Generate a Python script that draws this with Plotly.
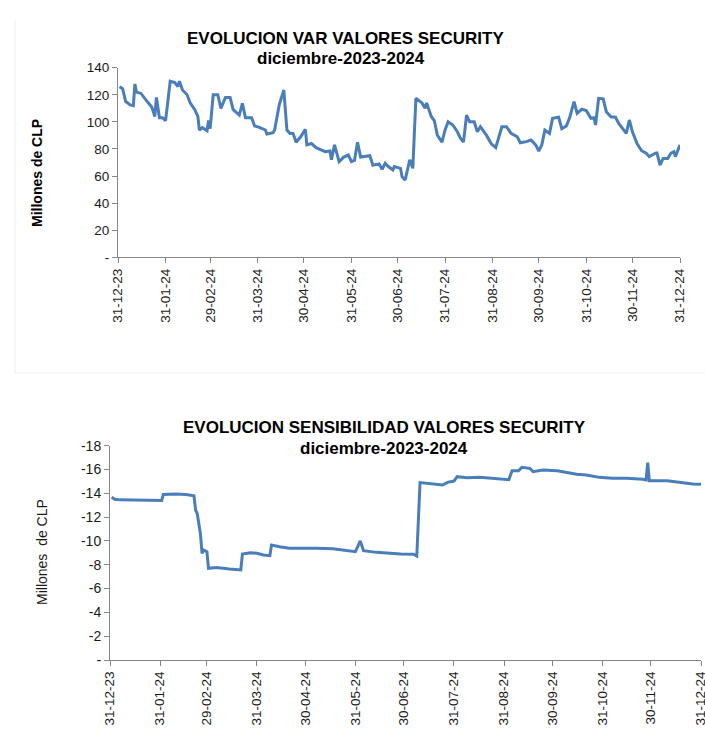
import pandas as pd
import plotly.graph_objects as go

# ---------------- data ----------------
var_dates = [
    "2024-01-01", "2024-01-03", "2024-01-05", "2024-01-08", "2024-01-10", "2024-01-11", "2024-01-12",
    "2024-01-15", "2024-01-19", "2024-01-22", "2024-01-24", "2024-01-25", "2024-01-27", "2024-01-29",
    "2024-01-31", "2024-02-03", "2024-02-06", "2024-02-08", "2024-02-09", "2024-02-11", "2024-02-14",
    "2024-02-16", "2024-02-19", "2024-02-21", "2024-02-22", "2024-02-24", "2024-02-27", "2024-02-28",
    "2024-02-29", "2024-03-02", "2024-03-05", "2024-03-07", "2024-03-10", "2024-03-13", "2024-03-15",
    "2024-03-19", "2024-03-21", "2024-03-23", "2024-03-27", "2024-03-29", "2024-04-01", "2024-04-05",
    "2024-04-06", "2024-04-10", "2024-04-11", "2024-04-14", "2024-04-17", "2024-04-19", "2024-04-21",
    "2024-04-23", "2024-04-25", "2024-04-28", "2024-05-01", "2024-05-02", "2024-05-05", "2024-05-08",
    "2024-05-12", "2024-05-14", "2024-05-17", "2024-05-18", "2024-05-20", "2024-05-23", "2024-05-26",
    "2024-05-29", "2024-05-31", "2024-06-02", "2024-06-04", "2024-06-06", "2024-06-12", "2024-06-14",
    "2024-06-18", "2024-06-20", "2024-06-22", "2024-06-24", "2024-06-27", "2024-06-28", "2024-07-02",
    "2024-07-03", "2024-07-05", "2024-07-08", "2024-07-10", "2024-07-12", "2024-07-16", "2024-07-18",
    "2024-07-19", "2024-07-22", "2024-07-24", "2024-07-26", "2024-07-29", "2024-07-31", "2024-08-02",
    "2024-08-05", "2024-08-08", "2024-08-10", "2024-08-12", "2024-08-14", "2024-08-16", "2024-08-19",
    "2024-08-21", "2024-08-23", "2024-08-27", "2024-08-30", "2024-09-02", "2024-09-05", "2024-09-06",
    "2024-09-09", "2024-09-12", "2024-09-16", "2024-09-18", "2024-09-22", "2024-09-25", "2024-09-28",
    "2024-09-30", "2024-10-02", "2024-10-04", "2024-10-07", "2024-10-09", "2024-10-13", "2024-10-15",
    "2024-10-18", "2024-10-20", "2024-10-23", "2024-10-25", "2024-10-28", "2024-10-31", "2024-11-03",
    "2024-11-05", "2024-11-06", "2024-11-08", "2024-11-11", "2024-11-13", "2024-11-16", "2024-11-19",
    "2024-11-21", "2024-11-24", "2024-11-26", "2024-11-28", "2024-11-30", "2024-12-03", "2024-12-06",
    "2024-12-09", "2024-12-11", "2024-12-15", "2024-12-16", "2024-12-18", "2024-12-20", "2024-12-23",
    "2024-12-25", "2024-12-27", "2024-12-28", "2024-12-31",
]
var_values = [
    126, 124.5, 115, 112.5, 112, 128, 122,
    121, 115, 111, 104, 118, 103, 103,
    101, 130, 129, 126, 130, 123.5, 120,
    114, 109, 104, 94, 95.7, 93.5, 101,
    95, 120, 120, 110, 118, 118, 109,
    105, 113.7, 103, 103, 97, 96, 94,
    91, 92, 94, 112.5, 123.5, 94, 91.5,
    91.5, 85, 89, 94.5, 83, 84, 81,
    79, 78, 78.5, 72, 83, 70.6, 74,
    75.5, 70.6, 71.5, 85, 74, 75, 68,
    69, 65, 69.4, 67, 64.5, 67, 65.7,
    59.5, 57, 72, 65.7, 117.4, 114, 110,
    114, 104, 101, 90, 85, 94, 100,
    97.7, 92.7, 88, 85, 105, 100, 100,
    92.7, 96.4, 90, 84, 81, 94, 96.4,
    96.4, 91.5, 89, 84.6, 85.4, 86.6, 83,
    78.5, 83, 94, 91.5, 102.6, 103.4, 95,
    97, 102.6, 115, 106.3, 109.3, 108.3, 102.6,
    103, 97.7, 117.4, 117, 107.5, 103.8, 103.4,
    99, 95, 91.5, 101.4, 92.7, 84, 78.7,
    76.8, 74.3, 76.8, 77, 68, 73, 73,
    76.8, 78, 74.3, 83,
]

sens_dates = [
    "2024-01-01", "2024-01-03", "2024-01-06", "2024-01-14", "2024-01-23", "2024-01-31", "2024-02-01",
    "2024-02-02", "2024-02-10", "2024-02-16", "2024-02-21", "2024-02-22", "2024-02-23", "2024-02-25",
    "2024-02-26", "2024-02-27", "2024-02-29", "2024-03-01", "2024-03-06", "2024-03-14", "2024-03-21",
    "2024-03-22", "2024-03-27", "2024-03-31", "2024-04-04", "2024-04-08", "2024-04-09", "2024-04-14",
    "2024-04-20", "2024-05-07", "2024-05-17", "2024-05-23", "2024-05-31", "2024-06-03", "2024-06-05",
    "2024-06-13", "2024-06-19", "2024-06-28", "2024-07-06", "2024-07-08", "2024-07-10", "2024-07-14",
    "2024-07-20", "2024-07-24", "2024-07-27", "2024-07-31", "2024-08-02", "2024-08-08", "2024-08-16",
    "2024-08-24", "2024-09-03", "2024-09-05", "2024-09-09", "2024-09-11", "2024-09-16", "2024-09-18",
    "2024-09-24", "2024-10-03", "2024-10-09", "2024-10-15", "2024-10-21", "2024-10-29", "2024-11-06",
    "2024-11-15", "2024-11-25", "2024-11-27", "2024-11-28", "2024-11-29", "2024-12-10", "2024-12-14",
    "2024-12-20", "2024-12-26", "2024-12-31",
]
sens_values = [
    -13.67, -13.5, -13.45, -13.44, -13.4, -13.38, -13.4,
    -13.9, -13.94, -13.9, -13.8, -12.6, -12.3, -10.6,
    -8.96, -9.24, -9.1, -7.7, -7.76, -7.64, -7.56,
    -8.9, -9.0, -8.96, -8.82, -8.76, -9.66, -9.52,
    -9.38, -9.38, -9.35, -9.24, -9.1, -10.0, -9.18,
    -9.04, -8.96, -8.9, -8.88, -8.73, -14.9, -14.84,
    -14.7, -14.7, -14.92, -15.03, -15.4, -15.31, -15.34,
    -15.26, -15.15, -15.9, -15.9, -16.18, -16.1, -15.82,
    -15.96, -15.9, -15.73, -15.6, -15.54, -15.34, -15.26,
    -15.26, -15.18, -15.12, -16.57, -15.06, -15.06, -14.98,
    -14.9, -14.78, -14.76,
]

x_tick_labels = ["31-12-23", "31-01-24", "29-02-24", "31-03-24", "30-04-24", "31-05-24",
                 "30-06-24", "31-07-24", "31-08-24", "30-09-24", "31-10-24", "30-11-24", "31-12-24"]
var_y_ticks = [0, 20, 40, 60, 80, 100, 120, 140]
var_y_labels = ["-", "20", "40", "60", "80", "100", "120", "140"]
sens_y_ticks = [0, -2, -4, -6, -8, -10, -12, -14, -16, -18]
sens_y_labels = ["-", "-2", "-4", "-6", "-8", "-10", "-12", "-14", "-16", "-18"]

title1 = "EVOLUCION VAR VALORES SECURITY"
title2 = "EVOLUCION SENSIBILIDAD VALORES SECURITY"
subtitle = "diciembre-2023-2024"

# ---------------- figure ----------------
W, H = 705, 730
FONT = "Liberation Sans, Arial, sans-serif"
LINE_COLOR = "#4A7EBB"
AXIS_COLOR = "#868686"
TEXT_COLOR = "#1a1a1a"

tickvals = pd.to_datetime(x_tick_labels, format="%d-%m-%y")
x_range = [tickvals[0], tickvals[-1]]


def px_x(p):
    return p / W


def px_y(p):
    return 1 - p / H


fig = go.Figure()
fig.add_trace(go.Scatter(x=pd.to_datetime(var_dates), y=var_values, mode="lines",
                         line=dict(color=LINE_COLOR, width=3), xaxis="x", yaxis="y",
                         showlegend=False))
fig.add_trace(go.Scatter(x=pd.to_datetime(sens_dates), y=sens_values, mode="lines",
                         line=dict(color=LINE_COLOR, width=3), xaxis="x2", yaxis="y2",
                         showlegend=False))

common_axis = dict(showline=True, linecolor=AXIS_COLOR, linewidth=1, ticks="outside",
                   tickcolor=AXIS_COLOR, ticklen=5, showgrid=False, zeroline=False,
                   automargin=False, fixedrange=True, ticklabeloverflow="allow")

fig.update_layout(
    width=W, height=H, autosize=False,
    margin=dict(l=0, r=0, t=0, b=0),
    paper_bgcolor="white", plot_bgcolor="white",
    font=dict(family=FONT, color=TEXT_COLOR),
    xaxis=dict(**common_axis, type="date", domain=[px_x(118), px_x(680)], anchor="y",
               range=x_range, tickvals=tickvals, ticktext=x_tick_labels, tickangle=-90,
               tickfont=dict(size=13.5, color=TEXT_COLOR)),
    yaxis=dict(**common_axis, domain=[px_y(257.3), px_y(67.7)], anchor="x",
               range=[0, 140], tickvals=var_y_ticks, ticktext=var_y_labels,
               tickfont=dict(size=13.5, color=TEXT_COLOR)),
    xaxis2=dict(**common_axis, type="date", domain=[px_x(110), px_x(701)], anchor="y2",
                range=x_range, tickvals=tickvals, ticktext=x_tick_labels, tickangle=-90,
                tickfont=dict(size=13.5, color=TEXT_COLOR)),
    yaxis2=dict(**common_axis, domain=[px_y(660), px_y(445.7)], anchor="x2",
                range=[0, -18], tickvals=sens_y_ticks, ticktext=sens_y_labels,
                tickfont=dict(size=14, color=TEXT_COLOR)),
)

ann = []
ann.append(dict(text="<b>%s</b>" % title1, x=px_x(345), y=px_y(38), xref="paper", yref="paper",
                showarrow=False, xanchor="center", yanchor="middle",
                font=dict(size=17, color="#000000", family=FONT)))
ann.append(dict(text="<b>%s</b>" % subtitle, x=px_x(341), y=px_y(58), xref="paper", yref="paper",
                showarrow=False, xanchor="center", yanchor="middle",
                font=dict(size=17, color="#000000", family=FONT)))
ann.append(dict(text="<b>%s</b>" % title2, x=px_x(384.5), y=px_y(427), xref="paper", yref="paper",
                showarrow=False, xanchor="center", yanchor="middle",
                font=dict(size=17, color="#000000", family=FONT)))
ann.append(dict(text="<b>%s</b>" % subtitle, x=px_x(384.5), y=px_y(448), xref="paper", yref="paper",
                showarrow=False, xanchor="center", yanchor="middle",
                font=dict(size=17, color="#000000", family=FONT)))
ann.append(dict(text="<b>Millones de CLP</b>", x=px_x(37), y=px_y(173), xref="paper", yref="paper",
                showarrow=False, textangle=-90, xanchor="center", yanchor="middle",
                font=dict(size=14, color="#000000", family=FONT)))
ann.append(dict(text="Millones\u00a0 de CLP", x=px_x(42), y=px_y(552), xref="paper", yref="paper",
                showarrow=False, textangle=-90, xanchor="center", yanchor="middle",
                font=dict(size=14, color=TEXT_COLOR, family=FONT)))
fig.update_layout(annotations=ann)

# faint frame edge of the upper chart picture
fig.update_layout(shapes=[
    dict(type="line", xref="paper", yref="paper", x0=px_x(15), x1=px_x(15), y0=px_y(20), y1=px_y(373),
         line=dict(color="#eeeeee", width=1)),
    dict(type="line", xref="paper", yref="paper", x0=px_x(15), x1=1, y0=px_y(373), y1=px_y(373),
         line=dict(color="#f3f3f3", width=1)),
])

fig.write_html("out.html", config={"displayModeBar": False},
               post_script="document.body.style.margin='0px';document.body.style.overflow='hidden';")
